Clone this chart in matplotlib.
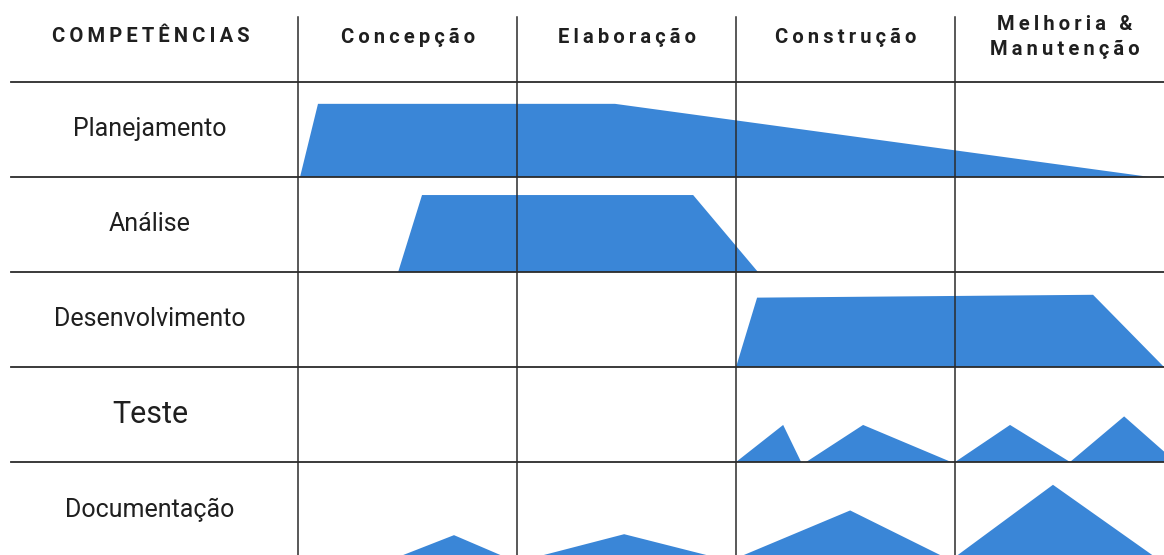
import matplotlib
matplotlib.use("Agg")
import matplotlib.pyplot as plt

# header and rows
phases = ["Concepção", "Elaboração", "Construção", "Melhoria &\nManutenção"]
skills = ["Planejamento", "Análise", "Desenvolvimento", "Teste", "Documentação"]

# effort profile of each skill: x in phase units (0..4), height as share of the row
plan_x = [0.009, 0.091, 1.447, 3.890]
plan_h = [0.0, 0.77, 0.77, 0.0]
anal_x = [0.457, 0.566, 1.804, 2.100]
anal_h = [0.0, 0.81, 0.81, 0.0]
dev_x = [2.0, 2.096, 3.630, 3.954]
dev_h = [0.0, 0.73, 0.76, 0.0]
test_x = [2.0, 2.215, 2.297, 2.320, 2.580, 2.982, 3.0, 3.251, 3.525, 3.772, 3.954]
test_h = [0.0, 0.39, 0.0, 0.0, 0.39, 0.0, 0.0, 0.39, 0.0, 0.48, 0.11]
doc_x = [0.457, 0.712, 0.945, 1.087, 1.489, 1.900, 2.014, 2.521, 2.950, 3.0, 3.447, 3.913]
doc_h = [0.0, 0.23, 0.0, 0.0, 0.24, 0.0, 0.0, 0.49, 0.0, 0.0, 0.76, 0.0]

profiles = [(plan_x, plan_h), (anal_x, anal_h), (dev_x, dev_h),
            (test_x, test_h), (doc_x, doc_h)]

BLUE = "#3a86d7"
LINE = "#2b2b2b"
TEXT = "#1f1f1f"


def spaced(s):
    # crude letter spacing with thin spaces
    return "\n".join("\u2009".join(line) for line in s.split("\n"))


fig = plt.figure(figsize=(11.64, 5.55), dpi=100)
ax = fig.add_axes([0, 0, 1, 1])
ax.set_xlim(-1.361, 3.954)
ax.set_ylim(4.979, -0.863)
ax.axis("off")

for i, (xs, hs) in enumerate(profiles):
    base = i + 1
    px = [xs[0]] + list(xs) + [xs[-1]]
    py = [base] + [base - h for h in hs] + [base]
    ax.fill(px, py, color=BLUE, lw=0, zorder=1)

for i in range(len(skills)):
    ax.plot([-1.311, 3.954], [i, i], color=LINE, lw=1.3, zorder=2)
for j in range(len(phases)):
    ax.plot([j, j], [-0.684, 4.979], color=LINE, lw=1.1, zorder=2)

fam = ["Roboto", "DejaVu Sans"]
ax.text(-0.671, -0.474, spaced("COMPETÊNCIAS"), ha="center", va="center",
        fontsize=14.5, fontweight="bold", family=fam, color=TEXT)
for j, p in enumerate(phases):
    ax.text(j + 0.5, -0.474, spaced(p), ha="center", va="center",
            fontsize=14.5, fontweight="bold", family=fam, color=TEXT,
            linespacing=1.45)

for i, s in enumerate(skills):
    size = 22 if s == "Teste" else 18
    ax.text(-0.676, i + 0.5, s, ha="center", va="center",
            fontsize=size, family=fam, color=TEXT)

fig.savefig("out.png", dpi=100, facecolor="white")
